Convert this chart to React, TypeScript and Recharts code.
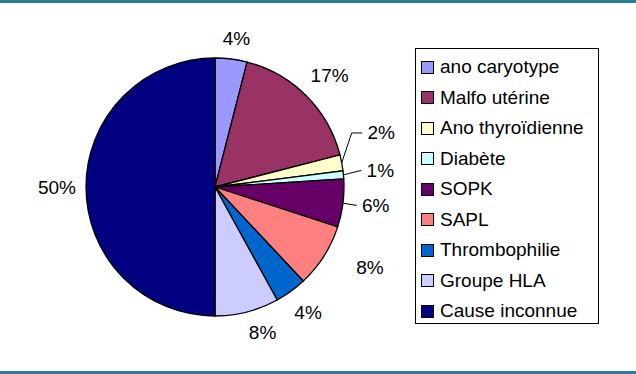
import { PieChart, Pie, Cell, Legend } from 'recharts';

const causes = [
  'ano caryotype',
  'Malfo utérine',
  'Ano thyroïdienne',
  'Diabète',
  'SOPK',
  'SAPL',
  'Thrombophilie',
  'Groupe HLA',
  'Cause inconnue',
];
const shares = [4, 17, 2, 1, 6, 8, 4, 8, 50];
const colors = [
  '#9999FF',
  '#993366',
  '#FFFFCC',
  '#CCFFFF',
  '#660066',
  '#FF8080',
  '#0066CC',
  '#CCCCFF',
  '#000080',
];

// small adjustments so labels sit where Excel put them
const labelNudge: [number, number][] = [
  [2, 5],
  [5, -2],
  [14, -25],
  [11, -2],
  [7, -1],
  [24, -3],
  [2, 0],
  [9, -5],
  [-3, 0],
];
const withLeader = [2, 3, 4];

const RADIAN = Math.PI / 180;
const FONT = '"Liberation Sans", Arial, sans-serif';

const data = causes.map((name, i) => ({ name, value: shares[i] }));

function renderLabel(props: any) {
  const { cx, cy, midAngle, outerRadius, index, value } = props;
  const cos = Math.cos(-midAngle * RADIAN);
  const sin = Math.sin(-midAngle * RADIAN);
  const r = outerRadius + 26;
  const x = cx + r * cos + labelNudge[index][0];
  const y = cy + r * sin + labelNudge[index][1];
  const ex = cx + outerRadius * cos;
  const ey = cy + outerRadius * sin;
  const lx = x - 19;
  return (
    <g key={`lbl-${index}`}>
      {withLeader.includes(index) && (
        <polyline
          points={
            index === 2
              ? `${ex},${ey} ${ex + 10},${y} ${lx},${y}`
              : `${ex},${ey} ${lx},${y}`
          }
          fill="none"
          stroke="#000"
          strokeWidth={1}
        />
      )}
      <text
        x={x}
        y={y}
        textAnchor="middle"
        dominantBaseline="central"
        fill="#000"
        fontSize={19}
        fontFamily={FONT}
      >
        {`${value}%`}
      </text>
    </g>
  );
}

function LegendBox() {
  return (
    <div
      style={{
        width: 184,
        height: 276,
        border: '1px solid #000',
        paddingTop: 3,
        boxSizing: 'border-box',
        fontFamily: FONT,
        fontSize: 19,
        color: '#000',
        background: '#fff',
      }}
    >
      {causes.map((c, i) => (
        <div
          key={c}
          style={{ height: 30.5, display: 'flex', alignItems: 'center', paddingLeft: 5 }}
        >
          <span
            style={{
              width: 11,
              height: 11,
              border: '1.5px solid #000',
              background: colors[i],
              marginRight: 6,
              flexShrink: 0,
            }}
          />
          <span style={{ whiteSpace: 'nowrap' }}>{c}</span>
        </div>
      ))}
    </div>
  );
}

export default function App() {
  return (
    <div
      style={{
        position: 'absolute',
        left: 0,
        top: 0,
        width: 636,
        height: 374,
        background: '#fff',
        overflow: 'hidden',
      }}
    >
      <div style={{ position: 'absolute', left: 0, top: 0, width: 636, height: 3, background: '#2b7c9a' }} />
      <div style={{ position: 'absolute', left: 0, top: 371, width: 636, height: 3, background: '#2b7c9a' }} />
      <PieChart width={636} height={374} margin={{ top: 0, right: 0, bottom: 0, left: 0 }}>
        <Pie
          data={data}
          dataKey="value"
          nameKey="name"
          cx={215}
          cy={187}
          outerRadius={129}
          startAngle={90}
          endAngle={-270}
          stroke="#000"
          strokeWidth={1.3}
          label={renderLabel}
          labelLine={false}
          isAnimationActive={false}
        >
          {data.map((d, i) => (
            <Cell key={d.name} fill={colors[i]} />
          ))}
        </Pie>
        <Legend
          content={() => <LegendBox />}
          wrapperStyle={{ position: 'absolute', left: 415, top: 48, width: 184 }}
        />
      </PieChart>
    </div>
  );
}
